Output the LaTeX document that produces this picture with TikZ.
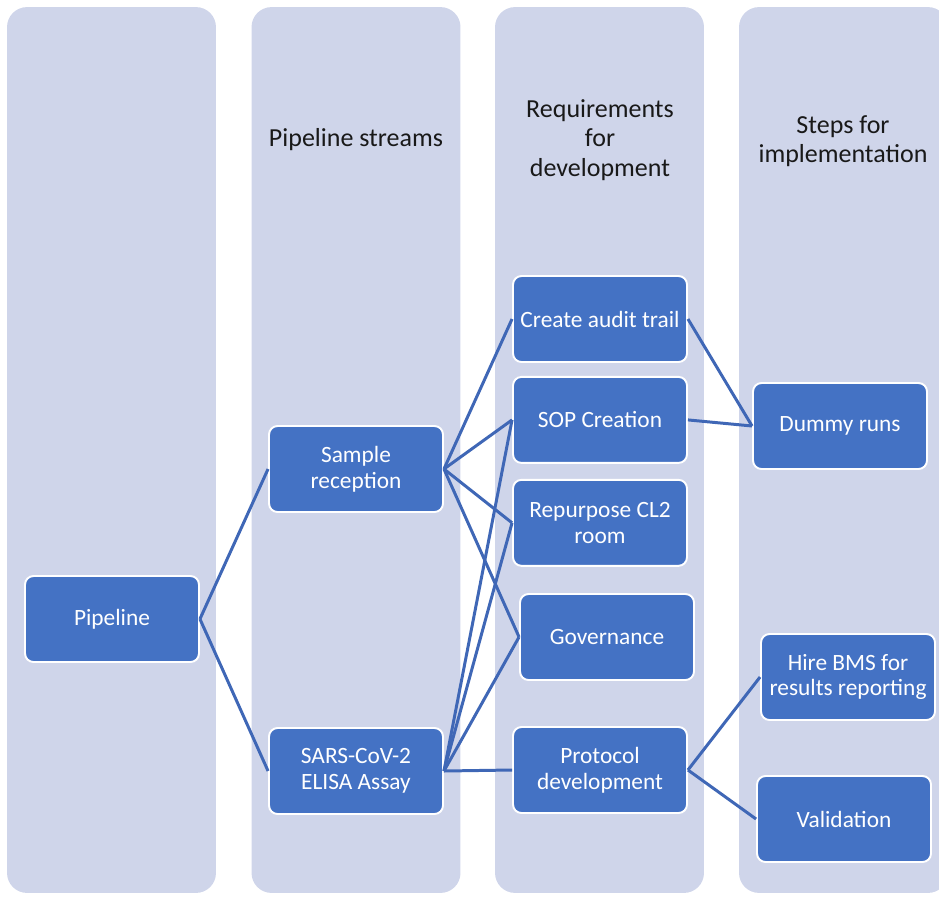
\documentclass[tikz,border=0pt]{standalone}
\usepackage{fontspec}
\setmainfont{Carlito}
\usepackage{xcolor}
\usetikzlibrary{positioning}

\definecolor{lanefill}{HTML}{CFD5EA}
\definecolor{boxfill}{HTML}{4472C4}
\definecolor{linkcol}{HTML}{3F67B6}

\begin{document}
\begin{tikzpicture}[
        x=0.02cm, y=-0.02cm,
        lane/.style = {rectangle, rounded corners=0.4cm, fill=lanefill,
                       minimum width=4.18cm, minimum height=17.72cm},
        head/.style = {align=center, text=black!90,
                       font=\fontsize{14.8}{16.6}\selectfont},
        task/.style = {rectangle, rounded corners=0.17cm, fill=boxfill,
                       draw=white, line width=1.1pt, text=white, align=center,
                       minimum width=3.48cm, minimum height=1.72cm,
                       font=\fontsize{13.3}{14.6}\selectfont},
        link/.style = {draw=linkcol, line width=1.7pt}]

        \useasboundingbox (0,0) rectangle (939,896);
        \clip (0,0) rectangle (939,896);

        % LANES
        \node[lane] (lane1) at (111.5,450) {};
        \node[lane] (lane2) at (356,450) {};
        \node[lane] (lane3) at (599.5,450) {};
        \node[lane] (lane4) at (843.5,450) {};

        % headings
        \node[head] (h2) at (356,140) {Pipeline streams};
        \node[head] (h3) at (600,140) {Requirements\\for\\development};
        \node[head] (h4) at (843,141) {Steps for\\implementation};

        % NODES
        % pipeline
        \node[task] (pipe) at (112,619) {Pipeline};
        % streams
        \node[task] (sample) at (356,469) {Sample\\reception};
        \node[task] (sars) at (356,771) {SARS-CoV-2\\ELISA Assay};
        % requirements
        \node[task] (audit) at (600,319) {Create audit trail};
        \node[task, below=0.26cm of audit] (sop) {SOP Creation};
        \node[task, below=0.3cm of sop] (room) {Repurpose CL2\\room};
        \node[task] (gov) at (607,637) {Governance};
        \node[task] (proto) at (600,770) {Protocol\\development};
        % steps
        \node[task] (dummy) at (840,426) {Dummy runs};
        \node[task] (bms) at (848,677) {Hire BMS for\\results reporting};
        \node[task] (valid) at (844,819) {Validation};

        % LINKS
        \draw[link] (pipe.east)--(sample.west);
        \draw[link] (pipe.east)--(sars.west);

        \draw[link] (sample.east)--(audit.west);
        \draw[link] (sample.east)--(sop.west);
        \draw[link] (sample.east)--(room.west);
        \draw[link] (sample.east)--(gov.west);

        \draw[link] (sars.east)--(sop.west);
        \draw[link] (sars.east)--(room.west);
        \draw[link] (sars.east)--(gov.west);
        \draw[link] (sars.east)--(proto.west);

        \draw[link] (audit.east)--(dummy.west);
        \draw[link] (sop.east)--(dummy.west);

        \draw[link] (proto.east)--(bms.west);
        \draw[link] (proto.east)--(valid.west);
\end{tikzpicture}
\end{document}
